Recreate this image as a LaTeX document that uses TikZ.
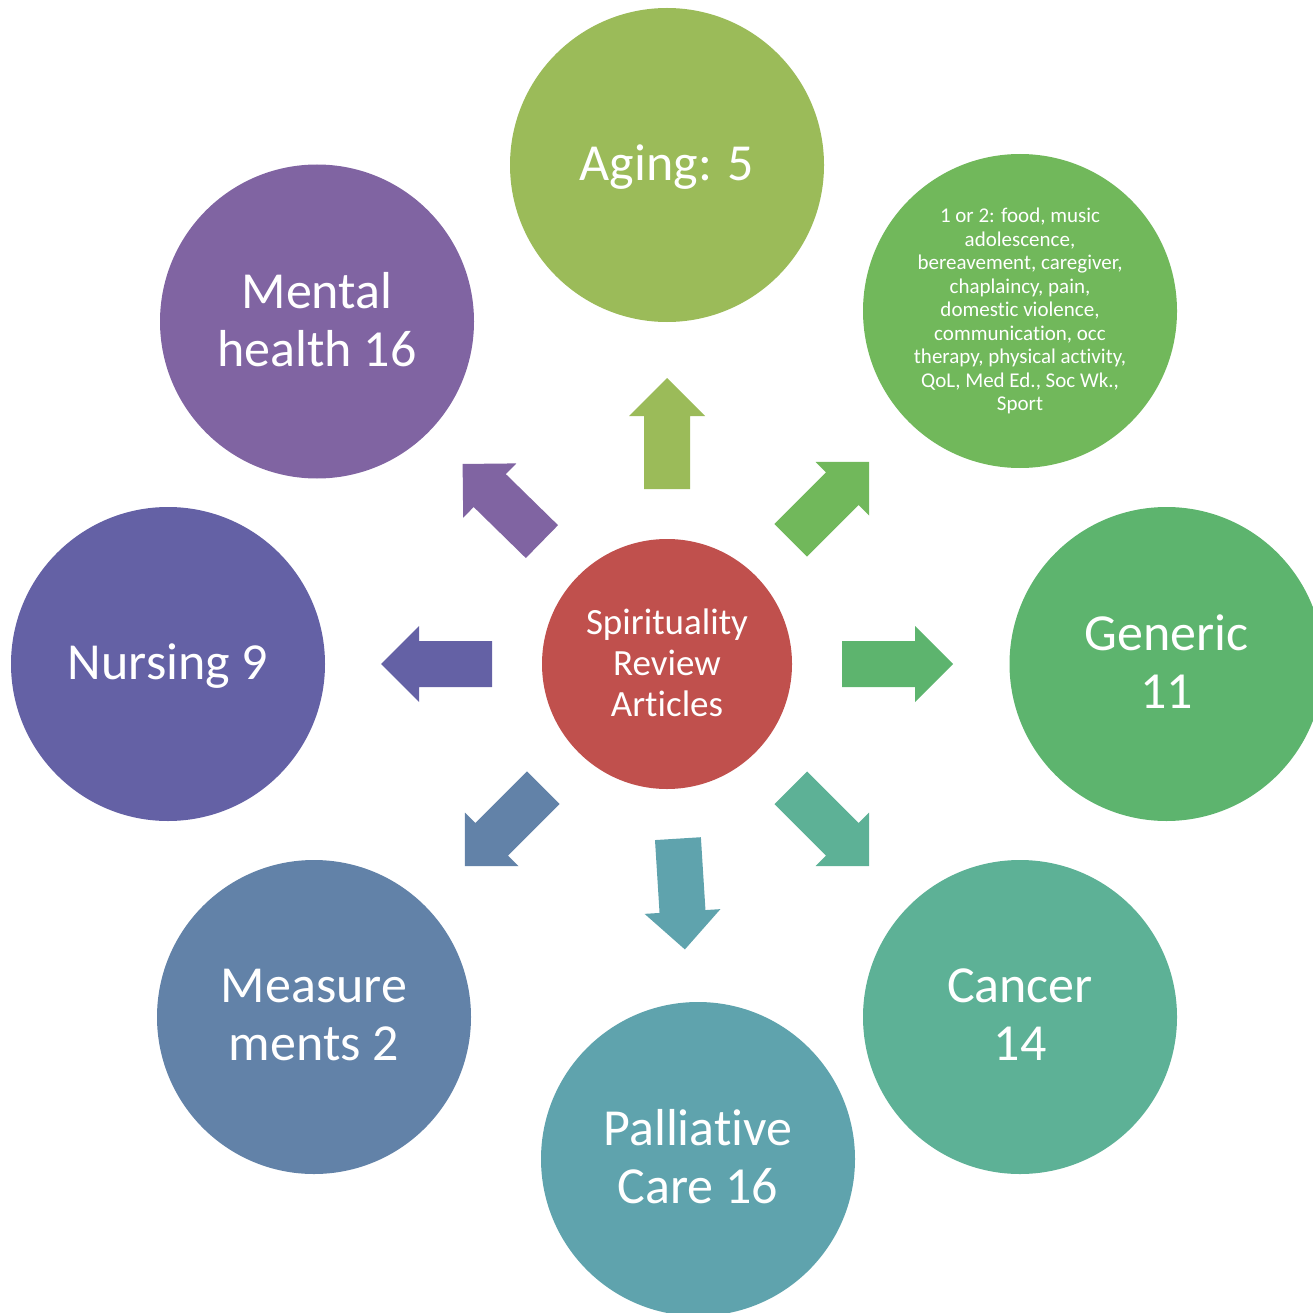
\documentclass[tikz,border=0pt]{standalone}
\usepackage{fontspec}
\setmainfont{Carlito}[Ligatures={NoCommon,NoContextual}]
\usetikzlibrary{calc}
\definecolor{cCenter}{HTML}{C0504D}
\definecolor{cAging}{HTML}{9BBB59}
\definecolor{cOne}{HTML}{71B85B}
\definecolor{cGeneric}{HTML}{5DB46E}
\definecolor{cCancer}{HTML}{5DB196}
\definecolor{cPall}{HTML}{5FA3AD}
\definecolor{cMeas}{HTML}{6282A8}
\definecolor{cNurs}{HTML}{6461A5}
\definecolor{cMental}{HTML}{8064A2}
\tikzset{
  bubble/.style={circle, minimum size=314pt, inner sep=0pt, text=white, align=center,
    font=\fontsize{52}{58}\selectfont},
  oneline/.style={text depth=4.5pt},
  twoline/.style={text depth=5pt},
  hub/.style={circle, minimum size=250pt, inner sep=0pt, text=white, align=center,
    fill=cCenter, font=\fontsize{37}{41}\selectfont, text depth=2pt},
  smalltext/.style={font=\fontsize{21}{23.5}\selectfont},
}
% block arrow from hub (c) towards node #1, filled with colour #2
\newcommand\blockarr[2]{%
  \coordinate (#1-a) at ($(c)!175pt!(#1)$);
  \coordinate (#1-h) at ($(c)!248pt!(#1)$);
  \coordinate (#1-b) at ($(c)!286pt!(#1)$);
  \fill[#2] ($(#1-a)!23pt!90:(#1-b)$) -- ($(#1-h)!23pt!90:(#1-b)$)
    -- ($(#1-h)!38pt!90:(#1-b)$) -- (#1-b) -- ($(#1-h)!38pt!-90:(#1-b)$)
    -- ($(#1-h)!23pt!-90:(#1-b)$) -- ($(#1-a)!23pt!-90:(#1-b)$) -- cycle;}
\begin{document}
\begin{tikzpicture}[x=1pt,y=-1pt]
\useasboundingbox (0,0) rectangle (1313,1313);
\clip (0,0) rectangle (1313,1313);
\node[hub] (c) at (667,664) {Spirituality\\Review\\Articles};
\node[bubble, oneline, fill=cAging] (aging) at (667,165) {Aging: 5};
\node[bubble, fill=cOne, smalltext] (one) at (1020,311)
  {1 or 2: food, music\\adolescence,\\bereavement, caregiver,\\chaplaincy, pain,\\domestic violence,\\communication, occ\\therapy, physical activity,\\QoL, Med Ed., Soc Wk.,\\Sport};
\node[bubble, twoline, fill=cGeneric] (generic) at (1166.5,664) {Generic\\11};
\node[bubble, twoline, fill=cCancer] (cancer) at (1020,1017) {Cancer\\14};
\node[bubble, twoline, fill=cPall] (pall) at (698,1159) {Palliative\\Care 16};
\node[bubble, twoline, fill=cMeas] (meas) at (314,1017) {Measure\\ments 2};
\node[bubble, oneline, fill=cNurs] (nurs) at (168,664) {Nursing 9};
\node[bubble, twoline, fill=cMental] (mental) at (317,321.5) {Mental\\health 16};
\blockarr{aging}{cAging}
\blockarr{one}{cOne}
\blockarr{generic}{cGeneric}
\blockarr{cancer}{cCancer}
\blockarr{pall}{cPall}
\blockarr{meas}{cMeas}
\blockarr{nurs}{cNurs}
\blockarr{mental}{cMental}
\end{tikzpicture}
\end{document}
